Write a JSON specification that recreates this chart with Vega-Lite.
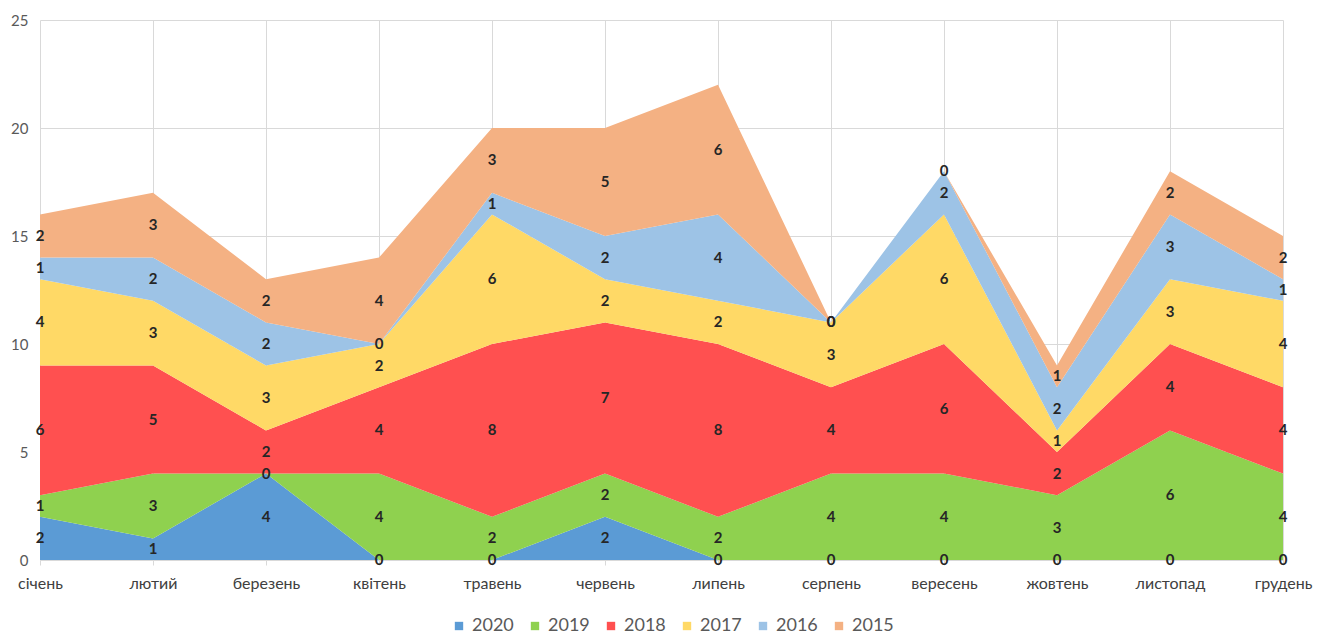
{
  "$schema": "https://vega.github.io/schema/vega-lite/v6.json",
  "autosize": {"type": "none"},
  "width": 1243,
  "height": 540,
  "padding": {"left": 40, "top": 20, "right": 43, "bottom": 77},
  "background": "#ffffff",
  "config": {
    "font": "Lato",
    "view": {"stroke": null},
    "axis": {"labelFont": "Lato", "labelColor": "#595959", "gridColor": "#D9D9D9", "gridWidth": 1}
  },
  "data": {
    "values": [
      {"month": "січень", "year": "2020", "value": 2},
      {"month": "січень", "year": "2019", "value": 1},
      {"month": "січень", "year": "2018", "value": 6},
      {"month": "січень", "year": "2017", "value": 4},
      {"month": "січень", "year": "2016", "value": 1},
      {"month": "січень", "year": "2015", "value": 2},
      {"month": "лютий", "year": "2020", "value": 1},
      {"month": "лютий", "year": "2019", "value": 3},
      {"month": "лютий", "year": "2018", "value": 5},
      {"month": "лютий", "year": "2017", "value": 3},
      {"month": "лютий", "year": "2016", "value": 2},
      {"month": "лютий", "year": "2015", "value": 3},
      {"month": "березень", "year": "2020", "value": 4},
      {"month": "березень", "year": "2019", "value": 0},
      {"month": "березень", "year": "2018", "value": 2},
      {"month": "березень", "year": "2017", "value": 3},
      {"month": "березень", "year": "2016", "value": 2},
      {"month": "березень", "year": "2015", "value": 2},
      {"month": "квітень", "year": "2020", "value": 0},
      {"month": "квітень", "year": "2019", "value": 4},
      {"month": "квітень", "year": "2018", "value": 4},
      {"month": "квітень", "year": "2017", "value": 2},
      {"month": "квітень", "year": "2016", "value": 0},
      {"month": "квітень", "year": "2015", "value": 4},
      {"month": "травень", "year": "2020", "value": 0},
      {"month": "травень", "year": "2019", "value": 2},
      {"month": "травень", "year": "2018", "value": 8},
      {"month": "травень", "year": "2017", "value": 6},
      {"month": "травень", "year": "2016", "value": 1},
      {"month": "травень", "year": "2015", "value": 3},
      {"month": "червень", "year": "2020", "value": 2},
      {"month": "червень", "year": "2019", "value": 2},
      {"month": "червень", "year": "2018", "value": 7},
      {"month": "червень", "year": "2017", "value": 2},
      {"month": "червень", "year": "2016", "value": 2},
      {"month": "червень", "year": "2015", "value": 5},
      {"month": "липень", "year": "2020", "value": 0},
      {"month": "липень", "year": "2019", "value": 2},
      {"month": "липень", "year": "2018", "value": 8},
      {"month": "липень", "year": "2017", "value": 2},
      {"month": "липень", "year": "2016", "value": 4},
      {"month": "липень", "year": "2015", "value": 6},
      {"month": "серпень", "year": "2020", "value": 0},
      {"month": "серпень", "year": "2019", "value": 4},
      {"month": "серпень", "year": "2018", "value": 4},
      {"month": "серпень", "year": "2017", "value": 3},
      {"month": "серпень", "year": "2016", "value": 0},
      {"month": "серпень", "year": "2015", "value": 0},
      {"month": "вересень", "year": "2020", "value": 0},
      {"month": "вересень", "year": "2019", "value": 4},
      {"month": "вересень", "year": "2018", "value": 6},
      {"month": "вересень", "year": "2017", "value": 6},
      {"month": "вересень", "year": "2016", "value": 2},
      {"month": "вересень", "year": "2015", "value": 0},
      {"month": "жовтень", "year": "2020", "value": 0},
      {"month": "жовтень", "year": "2019", "value": 3},
      {"month": "жовтень", "year": "2018", "value": 2},
      {"month": "жовтень", "year": "2017", "value": 1},
      {"month": "жовтень", "year": "2016", "value": 2},
      {"month": "жовтень", "year": "2015", "value": 1},
      {"month": "листопад", "year": "2020", "value": 0},
      {"month": "листопад", "year": "2019", "value": 6},
      {"month": "листопад", "year": "2018", "value": 4},
      {"month": "листопад", "year": "2017", "value": 3},
      {"month": "листопад", "year": "2016", "value": 3},
      {"month": "листопад", "year": "2015", "value": 2},
      {"month": "грудень", "year": "2020", "value": 0},
      {"month": "грудень", "year": "2019", "value": 4},
      {"month": "грудень", "year": "2018", "value": 4},
      {"month": "грудень", "year": "2017", "value": 4},
      {"month": "грудень", "year": "2016", "value": 1},
      {"month": "грудень", "year": "2015", "value": 2}
    ]
  },
  "transform": [
    {"stack": "value", "groupby": ["month"], "sort": [{"field": "year", "order": "descending"}], "as": ["v0", "v1"]},
    {"calculate": "(datum.v0 + datum.v1) / 2", "as": "mid"}
  ],
  "encoding": {
    "x": {
      "field": "month",
      "type": "ordinal",
      "sort": ["січень", "лютий", "березень", "квітень", "травень", "червень", "липень", "серпень", "вересень", "жовтень", "листопад", "грудень"],
      "scale": {"type": "point", "padding": 0},
      "axis": {
        "title": null,
        "labelAngle": 0,
        "labelFontSize": 16,
        "labelColor": "#404040",
        "labelPadding": 10,
        "domainColor": "#D9D9D9",
        "tickColor": "#D9D9D9",
        "tickSize": 5,
        "grid": true
      }
    }
  },
  "layer": [
    {
      "mark": {"type": "area", "opacity": 1},
      "encoding": {
        "y": {
          "field": "v1",
          "type": "quantitative",
          "scale": {"domain": [0, 25], "nice": false},
          "axis": {"title": null, "values": [0, 5, 10, 15, 20, 25], "labelFontSize": 15, "labelPadding": 12, "domain": false, "ticks": false, "grid": true}
        },
        "y2": {"field": "v0"},
        "color": {
          "field": "year",
          "type": "nominal",
          "scale": {
            "domain": ["2020", "2019", "2018", "2017", "2016", "2015"],
            "range": ["#5B9BD5", "#8FD14F", "#FF5050", "#FFD966", "#9DC3E6", "#F4B183"]
          },
          "legend": {
            "title": null,
            "orient": "none",
            "direction": "horizontal",
            "legendX": 410,
            "legendY": 597,
            "symbolType": "square",
            "symbolSize": 70,
            "symbolStrokeWidth": 0,
            "labelFontSize": 18,
            "labelColor": "#595959",
            "columnPadding": 12,
            "labelOffset": 4
          }
        }
      }
    },
    {
      "mark": {"type": "text", "fontSize": 15, "fontWeight": "bold", "color": "#262626", "baseline": "middle"},
      "encoding": {
        "y": {"field": "mid", "type": "quantitative"},
        "text": {"field": "value", "type": "quantitative"}
      }
    }
  ]
}
